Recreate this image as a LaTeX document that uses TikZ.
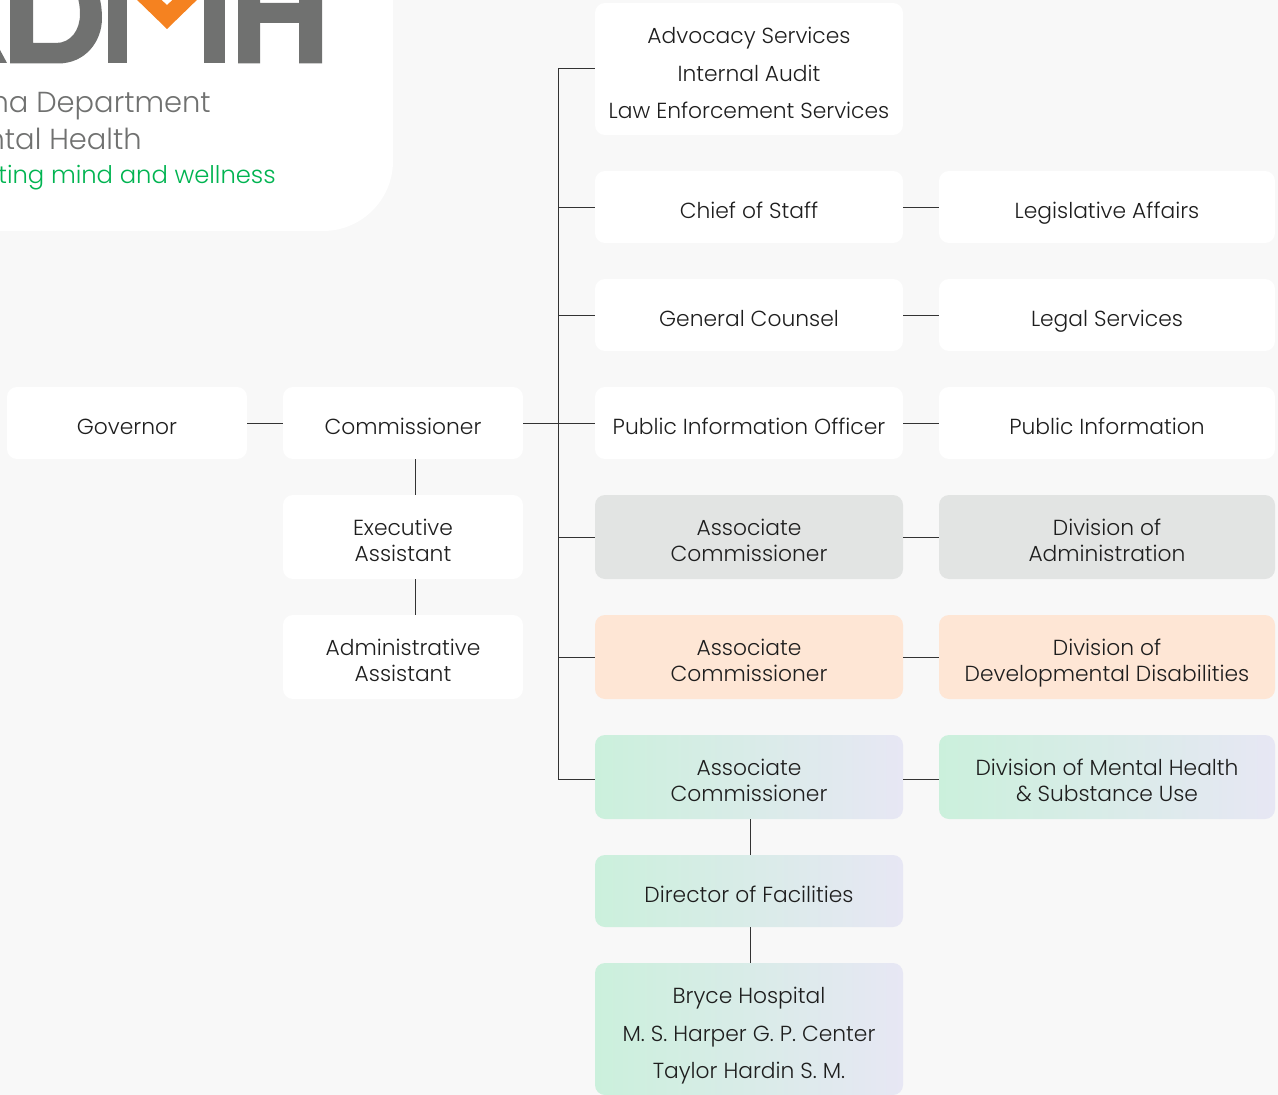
\documentclass[tikz,border=0pt]{standalone}
\usepackage{fontspec}
\setmainfont{Poppins Light}
\definecolor{pagebg}{HTML}{F8F8F8}
\definecolor{logogray}{HTML}{707170}
\definecolor{logoorange}{HTML}{F58220}
\definecolor{logogreen}{HTML}{00B451}
\definecolor{inkdark}{HTML}{1E1E1E}
\definecolor{linedark}{HTML}{333333}
\definecolor{boxgray}{HTML}{E2E4E3}
\definecolor{boxorange}{HTML}{FEE6D5}
\definecolor{boxgreen}{HTML}{CBF0DC}
\definecolor{boxlilac}{HTML}{E7E7F4}
\begin{document}
\begin{tikzpicture}[x=0.75pt, y=-0.75pt,
		main/.style = {rounded corners=7.5pt, inner sep=0pt, align=center, text=inkdark, text depth=0pt,
			font=\fontsize{16.35}{19.5}\selectfont},
		plain/.style = {main, fill=white},
		grayish/.style = {main, fill=boxgray},
		orangeish/.style = {main, fill=boxorange},
		greenish/.style = {main, left color=boxgreen, right color=boxlilac},
		narrow/.style = {minimum width=180pt},
		middle/.style = {minimum width=231pt},
		wide/.style = {minimum width=252pt},
		oneline/.style = {minimum height=54pt, text height=17.25pt},
		twoline/.style = {minimum height=63pt, text height=36.75pt},
		threeline/.style = {minimum height=99pt, text height=74.25pt},
		link/.style = {draw=linedark, line width=0.75pt},
		logotext/.style = {anchor=base east, inner sep=0pt, text=logogray, font=\fontsize{21.7}{26}\selectfont}]
		
		\clip (0,0) rectangle (1278,1095);
		\fill[pagebg] (0,0) rectangle (1278,1095);
		
		\fill[white, rounded corners=52.5pt] (-200,-200) rectangle (393,231);
		\fill[logogray] (0,50) -- (7,63) -- (0,63) -- cycle;
		\fill[logogray, even odd rule] (10,-5) -- (10,63.5) -- (58,63.5) .. controls (85,63.5) and (102,42) .. (102,18) .. controls (102,10) and (101,3) .. (99,-5) -- cycle
			(33,-5) -- (33,43) -- (56,43) .. controls (71,43) and (80,30) .. (80,14) .. controls (80,7) and (79,1) .. (77,-5) -- cycle;
		\fill[logogray] (108,-5) rectangle (127,63.5);
		\fill[logoorange] (132,-5) -- (167,29) -- (202,-5) -- (178,-5) -- (167,5) -- (156,-5) -- cycle;
		\fill[logogray] (204,-5) rectangle (225,63.5);
		\fill[logogray] (238,-5) -- (260,-5) -- (260,3) -- (299,3) -- (299,-5) -- (322,-5) -- (322,63.5) -- (299,63.5) -- (299,23) -- (260,23) -- (260,63.5) -- (238,63.5) -- cycle;
		
		\node[logotext] (dept) at (211,112.7) {ma Department};
		\node[logotext] (health) at (142,149.7) {ntal Health};
		\node[logotext, text=logogreen, font=\fontsize{18.2}{24}\selectfont] (motto) at (276,184) {ting mind and wellness};
		
		\node[plain, narrow, oneline] (governor) at (127,423) {Governor};
		\node[plain, narrow, oneline] (commissioner) at (403,423) {Commissioner};
		\node[plain, narrow, twoline] (executive) at (403,537) {Executive\\Assistant};
		\node[plain, narrow, twoline] (administrative) at (403,657) {Administrative\\Assistant};
		
		\node[plain, middle, threeline] (advocacy) at (749,69) {Advocacy Services\\[8.6pt]Internal Audit\\[8.6pt]Law Enforcement Services};
		\node[plain, middle, oneline] (chief) at (749,207) {Chief of Staff};
		\node[plain, middle, oneline] (counsel) at (749,315) {General Counsel};
		\node[plain, middle, oneline] (officer) at (749,423) {Public Information Officer};
		\node[grayish, middle, twoline] (assocadmin) at (749,537) {Associate\\Commissioner};
		\node[orangeish, middle, twoline] (assocdev) at (749,657) {Associate\\Commissioner};
		\node[greenish, middle, twoline] (assocmental) at (749,777) {Associate\\Commissioner};
		\node[greenish, middle, oneline] (facilities) at (749,891) {Director of Facilities};
		\node[greenish, middle, threeline] (hospitals) at (749,1029) {Bryce Hospital\\[8.6pt]M. S. Harper G. P. Center\\[8.6pt]Taylor Hardin S. M.};
		
		\node[plain, wide, oneline] (legislative) at (1107,207) {Legislative Affairs};
		\node[plain, wide, oneline] (legal) at (1107,315) {Legal Services};
		\node[plain, wide, oneline] (information) at (1107,423) {Public Information};
		\node[grayish, wide, twoline] (divadmin) at (1107,537) {Division of\\Administration};
		\node[orangeish, wide, twoline] (divdev) at (1107,657) {Division of\\Developmental Disabilities};
		\node[greenish, wide, twoline] (divmental) at (1107,777) {Division of Mental Health\\\& Substance Use};
		
		\coordinate (trunk) at (558.5,423);
		
		\draw[link] (governor) to (commissioner);
		\draw[link] (commissioner) to (officer);
		\draw[link] ([xshift=9.6pt]commissioner.south) to ([xshift=9.6pt]executive.north);
		\draw[link] ([xshift=9.6pt]executive.south) to ([xshift=9.6pt]administrative.north);
		
		\draw[link] (advocacy.west) -| (trunk);
		\draw[link] ([yshift=-1.5pt]assocmental.west) -| (trunk);
		\draw[link] ([yshift=-0.3pt]chief.west) to ([yshift=-0.3pt]chief.west -| trunk);
		\draw[link] (counsel.west) to (counsel.west -| trunk);
		\draw[link] (assocadmin.west) to (assocadmin.west -| trunk);
		\draw[link] (assocdev.west) to (assocdev.west -| trunk);
		
		\draw[link] ([yshift=-0.3pt]chief.east) to ([yshift=-0.3pt]legislative.west);
		\draw[link] (counsel) to (legal);
		\draw[link] (officer) to (information);
		\draw[link] (assocadmin) to (divadmin);
		\draw[link] (assocdev) to (divdev);
		\draw[link] ([yshift=-1.5pt]assocmental.east) to ([yshift=-1.5pt]divmental.west);
		
		\draw[link] ([xshift=1.4pt]assocmental.south) to ([xshift=1.4pt]facilities.north);
		\draw[link] ([xshift=1.4pt]facilities.south) to ([xshift=1.4pt]hospitals.north);
		
	\end{tikzpicture}
\end{document}
